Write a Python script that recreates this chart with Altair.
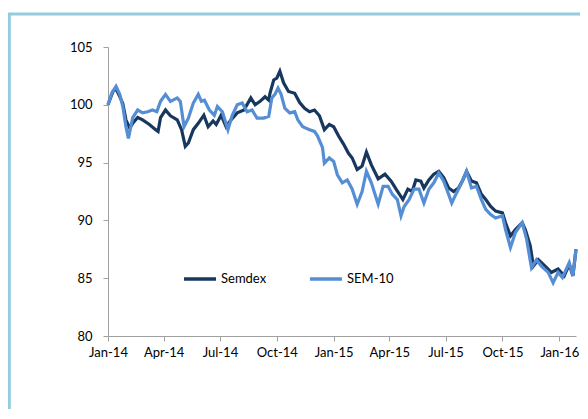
import altair as alt
import pandas as pd

# Semdex (dark navy)
semdex_dates = [
    "2014-01-01", "2014-01-09", "2014-01-14", "2014-01-20", "2014-01-25", "2014-01-30",
    "2014-02-05", "2014-02-10", "2014-02-18", "2014-02-26", "2014-03-09", "2014-03-19",
    "2014-03-23", "2014-03-27", "2014-04-04", "2014-04-12", "2014-04-23", "2014-04-30",
    "2014-05-06", "2014-05-11", "2014-05-19", "2014-05-27", "2014-06-05", "2014-06-12",
    "2014-06-20", "2014-06-25", "2014-07-03", "2014-07-11", "2014-07-19", "2014-07-29",
    "2014-08-09", "2014-08-20", "2014-08-27", "2014-09-04", "2014-09-12", "2014-09-18",
    "2014-09-20", "2014-09-26", "2014-10-01", "2014-10-06", "2014-10-12", "2014-10-20",
    "2014-10-30", "2014-11-07", "2014-11-15", "2014-11-23", "2014-12-01", "2014-12-09",
    "2014-12-17", "2014-12-25", "2015-01-01", "2015-01-09", "2015-01-17", "2015-01-25",
    "2015-01-31", "2015-02-08", "2015-02-16", "2015-02-23", "2015-03-03", "2015-03-14",
    "2015-03-25", "2015-04-04", "2015-04-12", "2015-04-23", "2015-05-01", "2015-05-08",
    "2015-05-14", "2015-05-22", "2015-05-27", "2015-06-04", "2015-06-12", "2015-06-20",
    "2015-06-28", "2015-07-06", "2015-07-14", "2015-07-22", "2015-07-29", "2015-08-04",
    "2015-08-12", "2015-08-20", "2015-08-28", "2015-09-04", "2015-09-12", "2015-09-20",
    "2015-10-01", "2015-10-06", "2015-10-14", "2015-10-22", "2015-11-02", "2015-11-07",
    "2015-11-15", "2015-11-20", "2015-11-28", "2015-12-09", "2015-12-19", "2015-12-30",
    "2016-01-09", "2016-01-17", "2016-01-23", "2016-01-28",
]
semdex_values = [
    100.0, 101.15, 101.4, 100.7, 100.1, 98.7,
    98.0, 98.4, 98.9, 98.7, 98.3, 97.85,
    97.7, 98.9, 99.55, 99.05, 98.7, 97.85,
    96.4, 96.7, 97.85, 98.4, 99.1, 98.1,
    98.6, 98.3, 99.1, 98.1, 98.7, 99.3,
    99.55, 100.6, 100.0, 100.3, 100.7, 100.4,
    101.0, 102.15, 102.3, 102.9, 101.9, 101.15,
    101.0, 100.2, 99.7, 99.4, 99.55, 99.05,
    97.85, 98.3, 98.1, 97.3, 96.6, 95.8,
    95.4, 94.4, 94.7, 95.9, 94.8, 93.6,
    94.0, 93.4, 92.7, 91.8, 92.7, 92.5,
    93.5, 93.4, 92.8, 93.5, 94.0, 94.25,
    93.7, 92.8, 92.5, 92.8, 93.5, 94.25,
    93.4, 93.25, 92.25, 91.8, 91.2, 90.8,
    90.65, 89.8, 88.65, 89.2, 89.8, 89.2,
    87.8, 86.05, 86.6, 86.05, 85.5, 85.8,
    85.2, 86.2, 85.2, 87.5,
]

# SEM-10 (light blue)
sem10_dates = [
    "2014-01-01", "2014-01-07", "2014-01-14", "2014-01-20", "2014-01-25", "2014-01-30",
    "2014-02-03", "2014-02-10", "2014-02-18", "2014-02-26", "2014-03-06", "2014-03-14",
    "2014-03-21", "2014-03-27", "2014-04-04", "2014-04-12", "2014-04-23", "2014-04-28",
    "2014-05-04", "2014-05-11", "2014-05-19", "2014-05-27", "2014-06-01", "2014-06-06",
    "2014-06-14", "2014-06-22", "2014-06-27", "2014-07-05", "2014-07-14", "2014-07-21",
    "2014-07-29", "2014-08-06", "2014-08-14", "2014-08-22", "2014-08-30", "2014-09-10",
    "2014-09-18", "2014-09-23", "2014-09-28", "2014-10-03", "2014-10-08", "2014-10-14",
    "2014-10-22", "2014-10-30", "2014-11-04", "2014-11-12", "2014-11-23", "2014-12-01",
    "2014-12-06", "2014-12-14", "2014-12-17", "2014-12-25", "2015-01-01", "2015-01-07",
    "2015-01-15", "2015-01-23", "2015-01-31", "2015-02-08", "2015-02-16", "2015-02-23",
    "2015-03-03", "2015-03-14", "2015-03-22", "2015-03-30", "2015-04-06", "2015-04-14",
    "2015-04-20", "2015-04-25", "2015-05-03", "2015-05-11", "2015-05-19", "2015-05-27",
    "2015-06-04", "2015-06-12", "2015-06-20", "2015-06-28", "2015-07-06", "2015-07-11",
    "2015-07-19", "2015-07-27", "2015-08-04", "2015-08-12", "2015-08-20", "2015-08-28",
    "2015-09-04", "2015-09-12", "2015-09-20", "2015-10-01", "2015-10-06", "2015-10-14",
    "2015-10-22", "2015-11-02", "2015-11-09", "2015-11-17", "2015-11-25", "2015-12-03",
    "2015-12-14", "2015-12-22", "2015-12-30", "2016-01-06", "2016-01-17", "2016-01-23",
    "2016-01-28",
]
sem10_values = [
    100.0, 101.0, 101.6, 100.9, 99.85, 98.1,
    97.1, 98.9, 99.55, 99.3, 99.4, 99.55,
    99.4, 100.3, 100.9, 100.3, 100.6, 100.3,
    98.1, 98.85, 100.15, 100.9, 100.3, 100.4,
    99.55, 99.1, 99.85, 99.4, 97.85, 99.1,
    100.0, 100.15, 99.4, 99.55, 98.85, 98.85,
    99.0, 100.6, 100.9, 101.45, 100.9, 99.7,
    99.3, 99.4, 98.7, 98.1, 97.85, 97.7,
    97.3, 96.3, 94.95, 95.4, 95.1, 93.95,
    93.25, 93.5, 92.7, 91.4, 92.5, 94.25,
    93.25, 91.4, 92.95, 92.95, 92.25, 91.8,
    90.4, 91.2, 91.8, 92.7, 92.7, 91.5,
    92.7, 93.25, 94.1, 93.4, 92.25, 91.5,
    92.4, 93.25, 94.25, 92.8, 92.95, 91.8,
    90.95, 90.5, 90.2, 90.4, 89.2, 87.65,
    88.95, 89.8, 88.4, 85.9, 86.6, 86.05,
    85.5, 84.6, 85.5, 85.05, 86.35, 85.2,
    87.5,
]

series_names = ["Semdex", "SEM-10"]
series_colors = ["#17375E", "#558ED5"]
x_tick_dates = ["2014-01-01", "2014-04-01", "2014-07-01", "2014-10-01", "2015-01-01",
                "2015-04-01", "2015-07-01", "2015-10-01", "2016-01-01"]
y_ticks = [80, 85, 90, 95, 100, 105]

df_semdex = pd.DataFrame({"date": pd.to_datetime(semdex_dates), "value": semdex_values,
                          "series": series_names[0]})
df_sem10 = pd.DataFrame({"date": pd.to_datetime(sem10_dates), "value": sem10_values,
                         "series": series_names[1]})

x_enc = alt.X(
    "date:T",
    scale=alt.Scale(domain=[alt.DateTime(year=2014, month=1, date=1),
                            alt.DateTime(year=2016, month=1, date=28)]),
    axis=alt.Axis(
        values=[alt.DateTime(year=int(d[:4]), month=int(d[5:7]), date=1) for d in x_tick_dates],
        format="%b-%y", labelAngle=0, title=None, grid=False,
        tickSize=5, labelPadding=5, labelOverlap=False, labelFlush=False,
        labelBound=False,
    ),
)
y_enc = alt.Y(
    "value:Q",
    scale=alt.Scale(domain=[80, 105], nice=False, zero=False),
    axis=alt.Axis(values=y_ticks, title=None, grid=False, tickSize=5, labelPadding=11),
)
color_enc = alt.Color(
    "series:N",
    scale=alt.Scale(domain=series_names, range=series_colors),
    legend=alt.Legend(
        title=None, orient="none", direction="horizontal",
        legendX=74, legendY=214, symbolType="stroke", symbolSize=1024,
        symbolStrokeWidth=3.5, labelFontSize=13, labelOffset=3, columnPadding=36,
        labelColor="#000000",
    ),
)

line_semdex = alt.Chart(df_semdex).mark_line(strokeWidth=3.2).encode(
    x=x_enc, y=y_enc, color=color_enc)
line_sem10 = alt.Chart(df_sem10).mark_line(strokeWidth=3.2).encode(
    x=x_enc, y=y_enc, color=color_enc)

frame = alt.Chart(pd.DataFrame({"k": [0]})).mark_rect(
    fill=None, fillOpacity=0, stroke="#93CDDD", strokeWidth=3
).encode(
    x=alt.value(-98.7), x2=alt.value(700), y=alt.value(-33), y2=alt.value(600)
)

chart = alt.layer(frame, line_semdex, line_sem10).properties(
    width=468, height=289,
    autosize=alt.AutoSizeParams(type="none"),
    padding={"left": 100, "top": 39, "right": 4, "bottom": 73},
).configure_view(stroke=None).configure_axis(
    domainColor="#A0A0A0", tickColor="#A0A0A0", labelColor="#000000",
    labelFont="Lato", labelFontSize=13,
).configure_legend(labelFont="Lato")

chart.save("out.html", embed_options={"renderer": "svg", "actions": False})
